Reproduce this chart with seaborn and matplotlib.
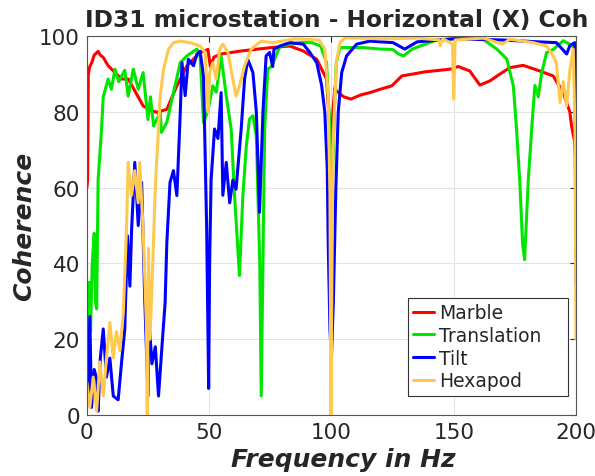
import numpy as np
import pandas as pd
import matplotlib
matplotlib.use("Agg")
import matplotlib.pyplot as plt
import seaborn as sns

# values (Hz, coherence in %)
marble_f = [0, 0.3, 0.6, 1.2, 2, 3, 4.6, 5.5, 6.7, 8.7,
            11.5, 14.2, 16.9, 19.6, 23, 26, 28.6, 32.7, 36.8, 40.9,
            46.3, 49.5, 50.5, 52, 54.9, 63.1, 75.4, 83, 88.5, 94,
            98, 99.4, 100, 100.6, 101.4, 102, 105, 108, 112, 115.7,
            120, 124.7, 128.8, 138.4, 148.6, 151.9, 156.6, 160.7, 164.8, 168.9,
            173, 178.4, 185.3, 190.7, 194.8, 197.5, 198.2, 199.5, 200]
marble_c = [60, 62, 90, 92, 93, 95, 96, 95, 94.4, 92.2,
            90.4, 88.7, 88.7, 85.6, 81.6, 80.5, 79.9, 80.7, 86.9, 92.2,
            95.7, 96.5, 92, 94.5, 95.3, 96.1, 97, 97.4, 96.1, 93.9,
            88.7, 75.5, 70, 80, 86.4, 85.6, 84, 83.4, 84.5, 85.1,
            86, 86.9, 89.5, 90.6, 91.3, 92, 90.8, 87.1, 88.2, 90,
            91.7, 92.3, 90.8, 89.5, 85.1, 80, 76.3, 72, 66]

transl_f = [0, 0.5, 1, 1.5, 2.2, 3, 3.5, 4, 4.6, 6,
            6.7, 8.7, 10, 11.5, 13, 14.2, 15.5, 16.9, 19, 21,
            23, 25, 26, 27.3, 30, 30.5, 32.7, 35.4, 38.2, 40.9,
            45, 46.3, 47.7, 49.5, 51.5, 52.9, 54.9, 57, 59, 60.4,
            62.4, 63.8, 65.2, 66.5, 67.9, 69.3, 70.7, 71.3, 72, 72.7,
            74, 75.4, 76.2, 79, 87, 92, 95.6, 98, 99.4, 99.7,
            100.3, 101.4, 102, 103.5, 113, 120, 125, 127.5, 129.5, 133,
            138.4, 143, 155, 162, 167.6, 171.7, 174.4, 175.7, 177, 178.2,
            179, 180.5, 181.9, 183.2, 184.6, 186, 188, 190.7, 194.8, 198.9,
            200]
transl_c = [20, 25, 35, 22, 40, 48, 30, 28, 62, 75.5,
            84, 88.7, 86, 91.3, 88, 89.5, 91, 84.2, 91.3, 86,
            90.4, 78, 84, 76.3, 79.9, 74.6, 77.3, 85.1, 93, 94.8,
            96.6, 94.8, 77.2, 80.3, 86.9, 85.2, 94.8, 84.2, 75.5, 57.9,
            36.8, 58, 71, 78.1, 79, 73.7, 40, 5, 40, 75.5,
            91.3, 92, 93, 97.4, 98.3, 98.3, 97.4, 93, 75, 30,
            60, 84, 93, 97, 97, 96.6, 96.5, 95.3, 94.8, 96.6,
            97.9, 99, 99.6, 99.2, 96.6, 94, 86.9, 75.5, 62, 45,
            41, 62, 75.5, 87, 84, 90.4, 95.7, 96.5, 98.8, 97.4,
            86]

tilt_f = [0, 0.5, 1.2, 1.9, 3, 4, 4.6, 5.5, 6.7, 8,
          9.4, 10.8, 12.8, 14.2, 15.5, 16.6, 17.6, 18.3, 19.6, 21,
          22.4, 23.7, 25, 25.2, 26.6, 28, 29.3, 30.7, 32, 32.7,
          34, 35.4, 36.8, 38.2, 38.9, 40.2, 41.5, 43.6, 45, 46.3,
          47.7, 49, 49.8, 50.2, 50.8, 52.2, 53.6, 54.9, 55.6, 57,
          58.4, 59.7, 61, 63.1, 64.5, 65.8, 67.9, 69.3, 70.6, 72,
          73.3, 74.7, 76, 76.5, 79, 83, 88.5, 91.2, 94, 96,
          97.3, 98.3, 98.7, 99.4, 100, 100.8, 101.8, 102.8, 104.2, 106.2,
          110.3, 115.7, 125.2, 130, 135, 150, 170, 185, 192, 196.2,
          197.5, 199.5, 200]
tilt_c = [10, 5, 26, 2, 12, 9.5, 1, 15, 22.7, 10,
          15, 5, 4, 14, 22.7, 47.3, 34, 49, 66.7, 50,
          61.4, 30, 5, 27, 13.5, 18, 5, 18, 29.7, 45.5,
          61.4, 64.5, 57.9, 80, 93, 84.3, 93.9, 92.2, 95.3, 96,
          89.5, 49, 7, 40, 62, 75.5, 73, 85.1, 58, 66.7,
          56, 62, 59.6, 75.5, 88.7, 93.9, 90.4, 80, 53.5, 80,
          94.8, 95.7, 92, 96.6, 97.4, 98.3, 97.9, 95.7, 93, 87,
          80, 65, 45, 22.7, 15, 30, 59.6, 80, 90.4, 94.8,
          97.9, 98.7, 98.3, 96.6, 98.5, 99.3, 99, 98.5, 98.3, 95.3,
          97.5, 98.3, 35]

hexa_f = [0, 1.2, 2.6, 4, 5.3, 6.7, 8, 9.4, 10.8, 12.1,
          13.5, 14.9, 16.2, 16.9, 18.3, 19.6, 21, 21.6, 23, 24.4,
          24.7, 25.2, 25.8, 27, 27.8, 28.5, 29.3, 30, 31.3, 33.4,
          35.4, 38.2, 42.2, 46.3, 48.4, 49.6, 50.2, 51.5, 52.9, 54.3,
          55.6, 57.7, 59.7, 61, 62.4, 64.5, 67.2, 71.3, 76, 85,
          95, 97.3, 98.7, 99.4, 99.8, 100.6, 102, 103.5, 105.6, 120,
          135, 144, 144.5, 145.5, 149.5, 150, 150.6, 162, 170, 173,
          182.5, 188, 190.7, 192, 193.5, 194.8, 196.2, 197.5, 198.9, 199.6,
          200]
hexa_c = [8.6, 2, 10, 1, 14, 5, 15, 24.4, 15, 22,
          17, 27, 49, 66.7, 58, 64.5, 56, 66.7, 49, 22.7,
          0, 44, 20, 41, 57, 66.7, 75.5, 84.2, 91.2, 96.6,
          98.3, 98.7, 98.3, 97.4, 95.7, 80, 90.4, 93, 88.7, 96.6,
          97.9, 95.7, 88.7, 84.2, 86.9, 92.2, 96.6, 98.7, 98.3, 99.3,
          99, 96.6, 84, 57.9, 0, 70, 93, 98.3, 99.6, 99.3,
          99.5, 99, 97.4, 99.3, 98, 83.4, 99, 99.5, 97.9, 99.2,
          98.3, 97.4, 94.8, 93, 82.5, 88, 81.6, 91, 96.6, 75.5,
          20]

names = ["Marble", "Translation", "Tilt", "Hexapod"]
colors = ["#ff0000", "#00e600", "#0000ff", "#ffc84f"]

frames = []
for name, f, c in zip(names, [marble_f, transl_f, tilt_f, hexa_f],
                      [marble_c, transl_c, tilt_c, hexa_c]):
    frames.append(pd.DataFrame({"freq": f, "coh": c, "sensor": name}))
df = pd.concat(frames, ignore_index=True)

sns.set_style("white")
plt.rcParams["font.family"] = ["DejaVu Sans"]

fig = plt.figure(figsize=(5.95, 4.77), dpi=100)
ax = fig.add_axes([0.146, 0.128, 0.822, 0.794])

sns.lineplot(data=df, x="freq", y="coh", hue="sensor", hue_order=names,
             palette=colors, estimator=None, sort=False, linewidth=2.2, ax=ax)

ax.set_xlim(0, 200)
ax.set_ylim(0, 100)
ax.set_xticks([0, 50, 100, 150, 200])
ax.set_yticks([0, 20, 40, 60, 80, 100])
ax.grid(True, color="#e3e3e3", linewidth=0.8)
ax.set_axisbelow(True)
for s in ax.spines.values():
    s.set_color("#555555")
    s.set_linewidth(0.8)
ax.tick_params(direction="in", length=4, labelsize=15.5, colors="#262626",
               top=True, right=True, pad=5)

ax.set_xlabel("Frequency in Hz", fontsize=18, fontweight="bold", style="italic",
              labelpad=4)
ax.xaxis.set_label_coords(0.525, -0.085)
ax.set_ylabel("Coherence", fontsize=18, fontweight="bold", style="italic",
              labelpad=2)
# the reference title runs off the right edge; keep the visible part
fig.text(0.143, 0.943, "ID31 microstation - Horizontal (X) Coh",
         fontsize=16.8, fontweight="bold", ha="left", va="baseline")

leg = ax.legend(loc="lower left", bbox_to_anchor=(0.656, 0.05, 0.328, 0.26),
                mode="expand", fontsize=13.5,
                fancybox=False, framealpha=1, edgecolor="#333333",
                handlelength=1.1, handletextpad=0.25, borderpad=0.3,
                labelspacing=0.2, borderaxespad=0)
leg.get_frame().set_linewidth(0.8)

fig.savefig("out.png", dpi=100)
